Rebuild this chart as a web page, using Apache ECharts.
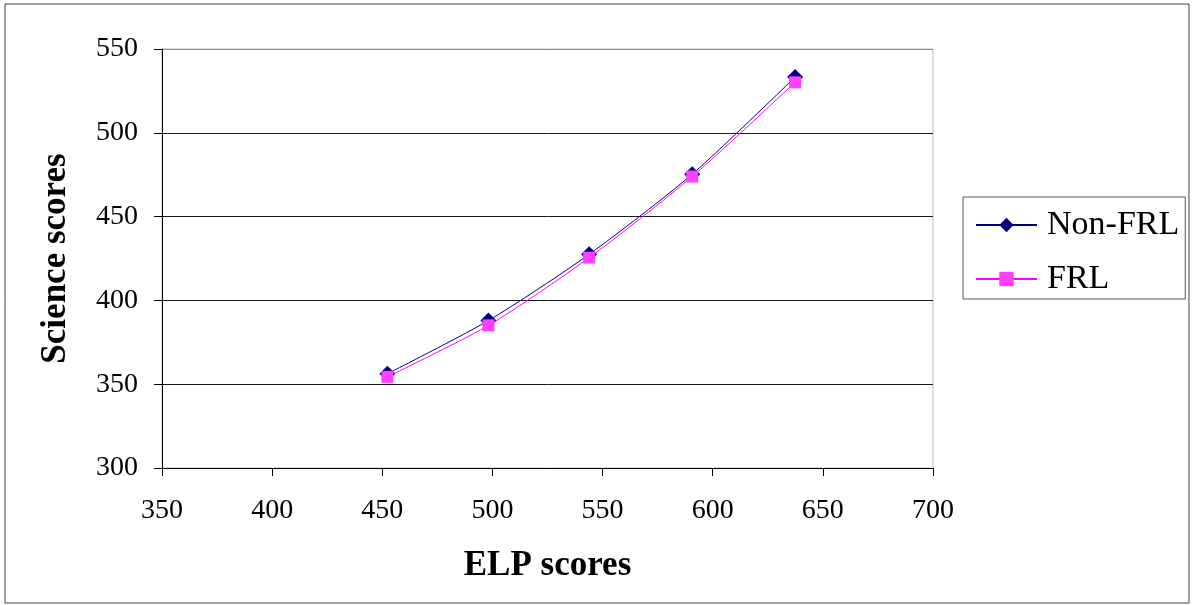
<!DOCTYPE html>
<html>
<head>
<meta charset="utf-8">
<title>Science scores by ELP scores</title>
<script src="https://cdn.jsdelivr.net/npm/echarts@6/dist/echarts.min.js"></script>
<style>
  html, body { margin: 0; padding: 0; background: #fff; }
  #chart { width: 1194px; height: 605px; }
</style>
</head>
<body>
<div id="chart"></div>
<script>
// ELP score for each group mean (x)
const elpScores = [452.3, 498.2, 543.9, 590.7, 637.4];
// Science score means (y)
const nonFrlScores = [356.2, 388.0, 427.5, 475.3, 533.3];
const frlScores = [354.4, 385.1, 425.5, 473.9, 530.1];
const seriesNames = ['Non-FRL', 'FRL'];
const xTitle = 'ELP scores';
const yTitle = 'Science scores';

const FONT = '"Liberation Serif", "Times New Roman", serif';

const pairs = (xs, ys) => xs.map((x, i) => [x, ys[i]]);

const chart = echarts.init(document.getElementById('chart'), null, { renderer: 'canvas' });

chart.setOption({
  backgroundColor: '#fff',
  animation: false,
  graphic: [{
    type: 'rect',
    shape: { x: 5, y: 4, width: 1184, height: 599 },
    style: { fill: 'none', stroke: '#404040', lineWidth: 1 },
    silent: true,
    z: -10
  }],
  grid: {
    left: 162, right: 261, top: 49, bottom: 137,
    show: true, borderColor: '#c0c0c0', borderWidth: 1, backgroundColor: 'transparent'
  },
  legend: {
    orient: 'vertical',
    left: 963, top: 197,
    padding: [10, 6, 2, 12],
    itemGap: 18,
    itemWidth: 61,
    itemHeight: 18,
    borderColor: '#555', borderWidth: 1,
    textStyle: {
      fontFamily: FONT, fontSize: 34, color: '#000',
      lineHeight: 36, padding: [0, 0, 0, 5]
    },
    data: seriesNames
  },
  xAxis: {
    type: 'value',
    min: 350, max: 700, interval: 50,
    name: xTitle,
    nameLocation: 'middle',
    nameGap: 80,
    nameTextStyle: { fontFamily: FONT, fontSize: 35, fontWeight: 'bold', color: '#000' },
    axisLine: { show: true, onZero: false, lineStyle: { color: '#000', width: 1 } },
    axisTick: { show: true, inside: false, length: 8, lineStyle: { color: '#000' } },
    axisLabel: { fontFamily: FONT, fontSize: 28, color: '#000', margin: 29 },
    splitLine: { show: false }
  },
  yAxis: {
    type: 'value',
    min: 300, max: 550, interval: 50,
    name: yTitle,
    nameLocation: 'middle',
    nameGap: 89,
    nameTextStyle: { fontFamily: FONT, fontSize: 35, fontWeight: 'bold', color: '#000' },
    axisLine: { show: true, lineStyle: { color: '#000', width: 1 } },
    axisTick: { show: true, inside: false, length: 8, lineStyle: { color: '#000' } },
    axisLabel: { fontFamily: FONT, fontSize: 28, color: '#000', margin: 24 },
    splitLine: {
      show: true,
      lineStyle: { color: ['#000', '#1a1a1a', '#1a1a1a', '#1a1a1a', '#1a1a1a', '#888'], width: 1 }
    }
  },
  series: [
    {
      name: seriesNames[0],
      type: 'line',
      data: pairs(elpScores, nonFrlScores),
      smooth: 0.25,
      symbol: 'diamond',
      symbolSize: 16,
      showAllSymbol: true,
      lineStyle: { color: '#000080', width: 1 },
      itemStyle: { color: '#000080' },
      z: 2
    },
    {
      name: seriesNames[1],
      type: 'line',
      data: pairs(elpScores, frlScores),
      smooth: 0.25,
      symbol: 'rect',
      symbolSize: 12,
      showAllSymbol: true,
      lineStyle: { color: '#ff00ff', width: 1 },
      itemStyle: { color: '#ff40ff' },
      z: 3
    }
  ]
});
</script>
</body>
</html>
